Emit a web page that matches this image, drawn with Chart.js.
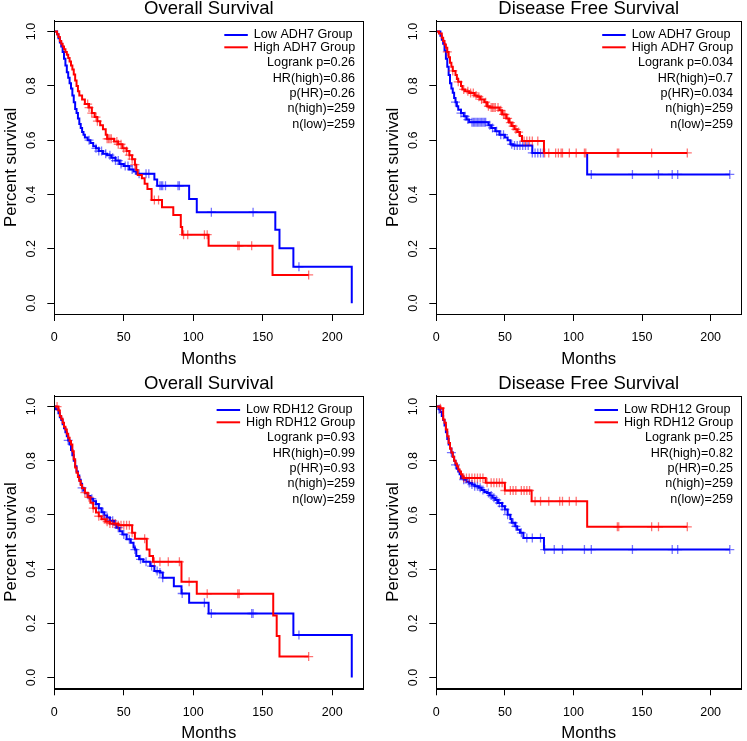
<!DOCTYPE html>
<html>
<head>
<meta charset="utf-8">
<script src="https://cdn.jsdelivr.net/npm/chart.js@4.4.1/dist/chart.umd.min.js"></script>
<style>
  body { margin: 0; background: #fff; }
  #wrap { position: relative; width: 747px; height: 741px; overflow: hidden; background: #fff; }
  canvas { position: absolute; }
</style>
</head>
<body>
<div id="wrap">
  <canvas id="p1" width="373" height="370" style="left:0;top:0"></canvas>
  <canvas id="p2" width="374" height="370" style="left:373px;top:0"></canvas>
  <canvas id="p3" width="373" height="371" style="left:0;top:370px"></canvas>
  <canvas id="p4" width="374" height="371" style="left:373px;top:370px"></canvas>
</div>
<script>
// axis ticks
const xTicks = [0, 50, 100, 150, 200];
const xTickLabels = ['0', '50', '100', '150', '200'];
const yTicks = [0, 0.2, 0.4, 0.6, 0.8, 1.0];
const yTickLabels = ['0.0', '0.2', '0.4', '0.6', '0.8', '1.0'];

// --- Overall survival, ADH7 ---
const osAdh7LowT = [0,2,3,4,5,6,7,8,9,10,11,12,13,14,15,16,17,18,19,20,21,22,24,26,28,30,32,35,38,41,44,47,50,54,57,59,72,74,97,102.5,159,162,172,214];
const osAdh7LowS = [1,0.99,0.975,0.96,0.945,0.925,0.9,0.875,0.85,0.83,0.81,0.79,0.765,0.74,0.715,0.7,0.68,0.66,0.645,0.63,0.62,0.61,0.6,0.59,0.578,0.57,0.56,0.55,0.545,0.535,0.525,0.512,0.505,0.492,0.485,0.476,0.455,0.432,0.383,0.335,0.27,0.202,0.134,0];
const osAdh7LowCens = [25,30,32,34,37,40,42,44,46,48,51,53,56,61,66,68,76,77,78,80,89,90,113,143,176];
const osAdh7HighT = [0,2,3,4,5,6,7,8,9,10,11,12,13,14,15,16,17,18,20,22,25,27,29,31,33,35,37,38,43,46,49,52,54,56,58,59,60,63,65,67,70,77.5,85.6,91,92,111,157,183];
const osAdh7HighS = [1,0.99,0.98,0.965,0.955,0.945,0.935,0.925,0.915,0.903,0.89,0.875,0.86,0.842,0.82,0.8,0.78,0.765,0.75,0.733,0.72,0.7,0.685,0.67,0.655,0.64,0.62,0.605,0.595,0.585,0.57,0.56,0.545,0.53,0.51,0.49,0.472,0.46,0.44,0.42,0.38,0.353,0.325,0.28,0.252,0.211,0.104,0.104];
const osAdh7HighCens = [24,25,27,30,31,38,39,40,41,45,46,48,50,52,54,56,58,72,75,93,96,108,110,132,133,142,183];
const osAdh7Stats = ['Logrank p=0.26', 'HR(high)=0.86', 'p(HR)=0.26', 'n(high)=259', 'n(low)=259'];

// --- Disease free survival, ADH7 ---
const dfsAdh7LowT = [0,3,4,5,6,7,8,9,10,11,12,13,14,15,16,18,20,22,24,38,40,43,46,50,52,54,56,70,110,214];
const dfsAdh7LowS = [1,0.985,0.97,0.955,0.93,0.9,0.87,0.84,0.81,0.79,0.775,0.755,0.74,0.725,0.712,0.7,0.688,0.676,0.666,0.655,0.645,0.633,0.62,0.61,0.6,0.585,0.58,0.553,0.474,0.474];
const dfsAdh7LowCens = [14,18,21,23,26,27,28,29,30,31,32,33,34,35,36,39,41,44,47,49,55,57,59,61,63,65,67,70,72,74,76,78,113,143,162,172,176,214];
const dfsAdh7HighT = [0,2,4,5,6,7,8,9,10,11,12,14,15,16,18,19,21,24,28,30,32,35,37,39,46,48,51,53,55,57,59,61,62.5,78.5,183];
const dfsAdh7HighS = [1,0.993,0.977,0.965,0.952,0.94,0.925,0.905,0.885,0.87,0.855,0.84,0.825,0.815,0.8,0.787,0.78,0.774,0.765,0.76,0.75,0.74,0.725,0.72,0.71,0.695,0.68,0.665,0.652,0.64,0.63,0.615,0.597,0.553,0.553];
const dfsAdh7HighCens = [8,12,16,20,23,25,27,29,31,33,36,38,40,41,42,43,45,47,49,50,52,54,56,58,60,64,66,68,70,74,79,82,87,89,91,92,97,102,108,109,132,133,157,183];
const dfsAdh7Stats = ['Logrank p=0.034', 'HR(high)=0.7', 'p(HR)=0.034', 'n(high)=259', 'n(low)=259'];

// --- Overall survival, RDH12 ---
const osRdh12LowT = [0,1,3,4,5,6,7,8,9,10,11,12,13,14,15,16,17,18,19,20,21,22,24,26,28,30,32,34,36,38,40,43,45,47,49,52,55,57,58,59,61,64,69,72,76,78,86,91.5,97,111,172,214];
const osRdh12LowS = [1,0.99,0.975,0.96,0.95,0.935,0.92,0.905,0.89,0.875,0.86,0.84,0.82,0.8,0.78,0.76,0.745,0.73,0.715,0.7,0.69,0.68,0.67,0.66,0.65,0.64,0.625,0.61,0.598,0.59,0.578,0.565,0.553,0.54,0.528,0.51,0.497,0.48,0.472,0.448,0.436,0.427,0.411,0.393,0.387,0.368,0.337,0.31,0.276,0.236,0.157,0];
const osRdh12LowCens = [10,20,27,30,32,35,38,40,42,44,46,50,54,58,62,66,70,74,76,78,92,108,113,142,143,176];
const osRdh12HighT = [0,3,4,5,6,7,8,9,10,11,12,13,14,15,16,17,18,19,20,22,24,26,28,30,32,34,37,40,46,56,58,66.5,68.5,71,91.5,102.5,157.5,160,162,183];
const osRdh12HighS = [1,0.985,0.965,0.955,0.94,0.925,0.915,0.9,0.885,0.873,0.86,0.835,0.805,0.775,0.756,0.74,0.725,0.71,0.698,0.682,0.665,0.645,0.625,0.609,0.595,0.584,0.575,0.568,0.562,0.534,0.512,0.472,0.448,0.427,0.353,0.309,0.229,0.153,0.077,0.077];
const osRdh12HighCens = [2,22,25,28,32,36,38,40,42,44,46,48,50,52,54,56,65,72,76,82,90,97,110,132,133,183];
const osRdh12Stats = ['Logrank p=0.93', 'HR(high)=0.99', 'p(HR)=0.93', 'n(high)=259', 'n(low)=259'];

// --- Disease free survival, RDH12 ---
const dfsRdh12LowT = [0,2,3,4,5,6,7,8,9,10,11,12,13,14,15,16,17,18,20,22,24,26,28,31,33,35,37,39,41,43,45,48,50,52,54,55,57.5,59,61,63.5,78.5,214];
const dfsRdh12LowS = [1,0.99,0.98,0.965,0.95,0.93,0.905,0.88,0.86,0.845,0.83,0.815,0.8,0.785,0.77,0.76,0.75,0.735,0.73,0.722,0.718,0.712,0.706,0.7,0.692,0.685,0.681,0.672,0.663,0.655,0.644,0.632,0.62,0.601,0.585,0.571,0.558,0.545,0.534,0.515,0.472,0.472];
const dfsRdh12LowCens = [2,11,14,20,24,26,28,30,32,34,38,40,42,44,46,48,50,52,56,58,62,66,70,76,79,86,92,108,113,143,172,176,214];
const dfsRdh12HighT = [0,3,5,6,7,8,9,10,11,12,13,14,15,16,17,18,19,20,36,50,69.5,110,183];
const dfsRdh12HighS = [1,0.994,0.952,0.94,0.915,0.89,0.865,0.845,0.83,0.815,0.8,0.79,0.78,0.768,0.76,0.75,0.742,0.736,0.719,0.69,0.65,0.556,0.556];
const dfsRdh12HighCens = [3,20,22,24,26,28,30,32,34,37,40,42,44,46,48,50,54,56,58,62,64,66,68,72,76,82,90,92,97,102,132,133,157,162,183];
const dfsRdh12Stats = ['Logrank p=0.25', 'HR(high)=0.82', 'p(HR)=0.25', 'n(high)=259', 'n(low)=259'];

const FONT = "'Liberation Sans', Arial, Helvetica, sans-serif";

// survival value of a step curve at time t (used to put censor marks on the curve)
function survAt(ts, ss, t) {
    let s = ss[0];
    for (let i = 0; i < ts.length; i++) if (ts[i] <= t) s = ss[i];
    return s;
}

const decor = {
    id: 'decor',
    afterDraw(chart, args, o) {
        const { ctx, chartArea: a, scales: { x, y } } = chart;
        ctx.save();
        ctx.strokeStyle = '#000';
        ctx.lineWidth = 1;
        ctx.strokeRect(Math.round(a.left) + 0.5, Math.round(a.top) + 0.5,
            Math.round(a.right - a.left), Math.round(a.bottom - a.top));

        ctx.fillStyle = '#000';
        // tick labels
        ctx.font = '12.5px ' + FONT;
        ctx.textAlign = 'center';
        ctx.textBaseline = 'middle';
        xTicks.forEach((v, i) => ctx.fillText(xTickLabels[i], x.getPixelForValue(v), a.bottom + 24));
        yTicks.forEach((v, i) => {
            ctx.save();
            ctx.translate(a.left - 22.6, y.getPixelForValue(v));
            ctx.rotate(-Math.PI / 2);
            ctx.fillText(yTickLabels[i], 0, 0);
            ctx.restore();
        });

        // axis titles
        ctx.font = '16.8px ' + FONT;
        ctx.fillText('Months', (a.left + a.right) / 2, a.bottom + 45);
        ctx.save();
        ctx.translate(a.left - 43, (a.top + a.bottom) / 2);
        ctx.rotate(-Math.PI / 2);
        ctx.fillText('Percent survival', 0, 0);
        ctx.restore();

        // main title
        ctx.font = '18.5px ' + FONT;
        ctx.textBaseline = 'alphabetic';
        ctx.fillText(o.title, (a.left + a.right) / 2, a.top - 6.5);

        // legend
        ctx.font = '12.6px ' + FONT;
        const w = Math.max(ctx.measureText(o.lowName).width, ctx.measureText(o.highName).width);
        const tx = a.right - 8 - w;
        ctx.textAlign = 'left';
        ctx.textBaseline = 'middle';
        [[o.lowName, '#0000ff', 14.3], [o.highName, '#ff0000', 26.6]].forEach(([txt, col, dy]) => {
            ctx.strokeStyle = col;
            ctx.lineWidth = 2;
            ctx.beginPath();
            ctx.moveTo(tx - 29.5, a.top + dy);
            ctx.lineTo(tx - 6, a.top + dy);
            ctx.stroke();
            ctx.fillText(txt, tx, a.top + dy);
        });
        ctx.textAlign = 'right';
        o.stats.forEach((s, i) => ctx.fillText(s, a.right - 8.3, a.top + 42 + i * 15.4));
        ctx.restore();
    }
};

function makePanel(id, box, title, gene, low, high, stats) {
    const canvas = document.getElementById(id);
    const W = canvas.width, H = canvas.height;
    const curve = g => g.t.map((t, i) => ({ x: t, y: g.s[i] }));
    const marks = g => g.c.map(t => ({ x: t, y: survAt(g.t, g.s, t) }));
    const censSet = (g, col) => ({
        data: marks(g), showLine: false, pointStyle: 'cross', pointRadius: 4.5,
        pointBorderColor: col, pointBorderWidth: 1.3, borderColor: col
    });
    const lineSet = (g, col) => ({
        data: curve(g), showLine: true, stepped: true, pointRadius: 0,
        borderColor: col, borderWidth: 2, fill: false
    });
    new Chart(canvas, {
        type: 'scatter',
        data: {
            datasets: [
                censSet(high, 'rgba(255,0,0,0.55)'),
                lineSet(high, '#ff0000'),
                censSet(low, 'rgba(0,0,255,0.55)'),
                lineSet(low, '#0000ff')
            ]
        },
        options: {
            responsive: false,
            devicePixelRatio: 1,
            animation: false,
            events: [],
            layout: { padding: { left: 0, top: box.top, right: W - box.right, bottom: 0 } },
            scales: {
                x: {
                    type: 'linear', min: 0, max: 222.3,
                    afterBuildTicks: ax => { ax.ticks = xTicks.map(v => ({ value: v })); },
                    afterFit: ax => { ax.height = H - box.bottom; },
                    ticks: { display: false },
                    grid: { drawOnChartArea: false, drawTicks: true, tickLength: 7, color: '#000', lineWidth: 1 },
                    border: { display: true, color: '#000', width: 1 }
                },
                y: {
                    type: 'linear', min: -0.04, max: 1.04,
                    afterBuildTicks: ax => { ax.ticks = yTicks.map(v => ({ value: v })); },
                    afterFit: ax => { ax.width = box.left; },
                    ticks: { display: false },
                    grid: { drawOnChartArea: false, drawTicks: true, tickLength: 7, color: '#000', lineWidth: 1 },
                    border: { display: true, color: '#000', width: 1 }
                }
            },
            plugins: {
                legend: { display: false },
                tooltip: { enabled: false },
                decor: {
                    title: title,
                    lowName: 'Low ' + gene + ' Group',
                    highName: 'High ' + gene + ' Group',
                    stats: stats
                }
            }
        },
        plugins: [decor]
    });
}

makePanel('p1', { left: 54.3, top: 20.7, right: 363.3, bottom: 314 }, 'Overall Survival', 'ADH7',
    { t: osAdh7LowT, s: osAdh7LowS, c: osAdh7LowCens },
    { t: osAdh7HighT, s: osAdh7HighS, c: osAdh7HighCens }, osAdh7Stats);
makePanel('p2', { left: 63.3, top: 20.7, right: 372.7, bottom: 314 }, 'Disease Free Survival', 'ADH7',
    { t: dfsAdh7LowT, s: dfsAdh7LowS, c: dfsAdh7LowCens },
    { t: dfsAdh7HighT, s: dfsAdh7HighS, c: dfsAdh7HighCens }, dfsAdh7Stats);
makePanel('p3', { left: 54.3, top: 25.7, right: 363.3, bottom: 318.3 }, 'Overall Survival', 'RDH12',
    { t: osRdh12LowT, s: osRdh12LowS, c: osRdh12LowCens },
    { t: osRdh12HighT, s: osRdh12HighS, c: osRdh12HighCens }, osRdh12Stats);
makePanel('p4', { left: 63.3, top: 25.7, right: 372.7, bottom: 318.3 }, 'Disease Free Survival', 'RDH12',
    { t: dfsRdh12LowT, s: dfsRdh12LowS, c: dfsRdh12LowCens },
    { t: dfsRdh12HighT, s: dfsRdh12HighS, c: dfsRdh12HighCens }, dfsRdh12Stats);
</script>
</body>
</html>
